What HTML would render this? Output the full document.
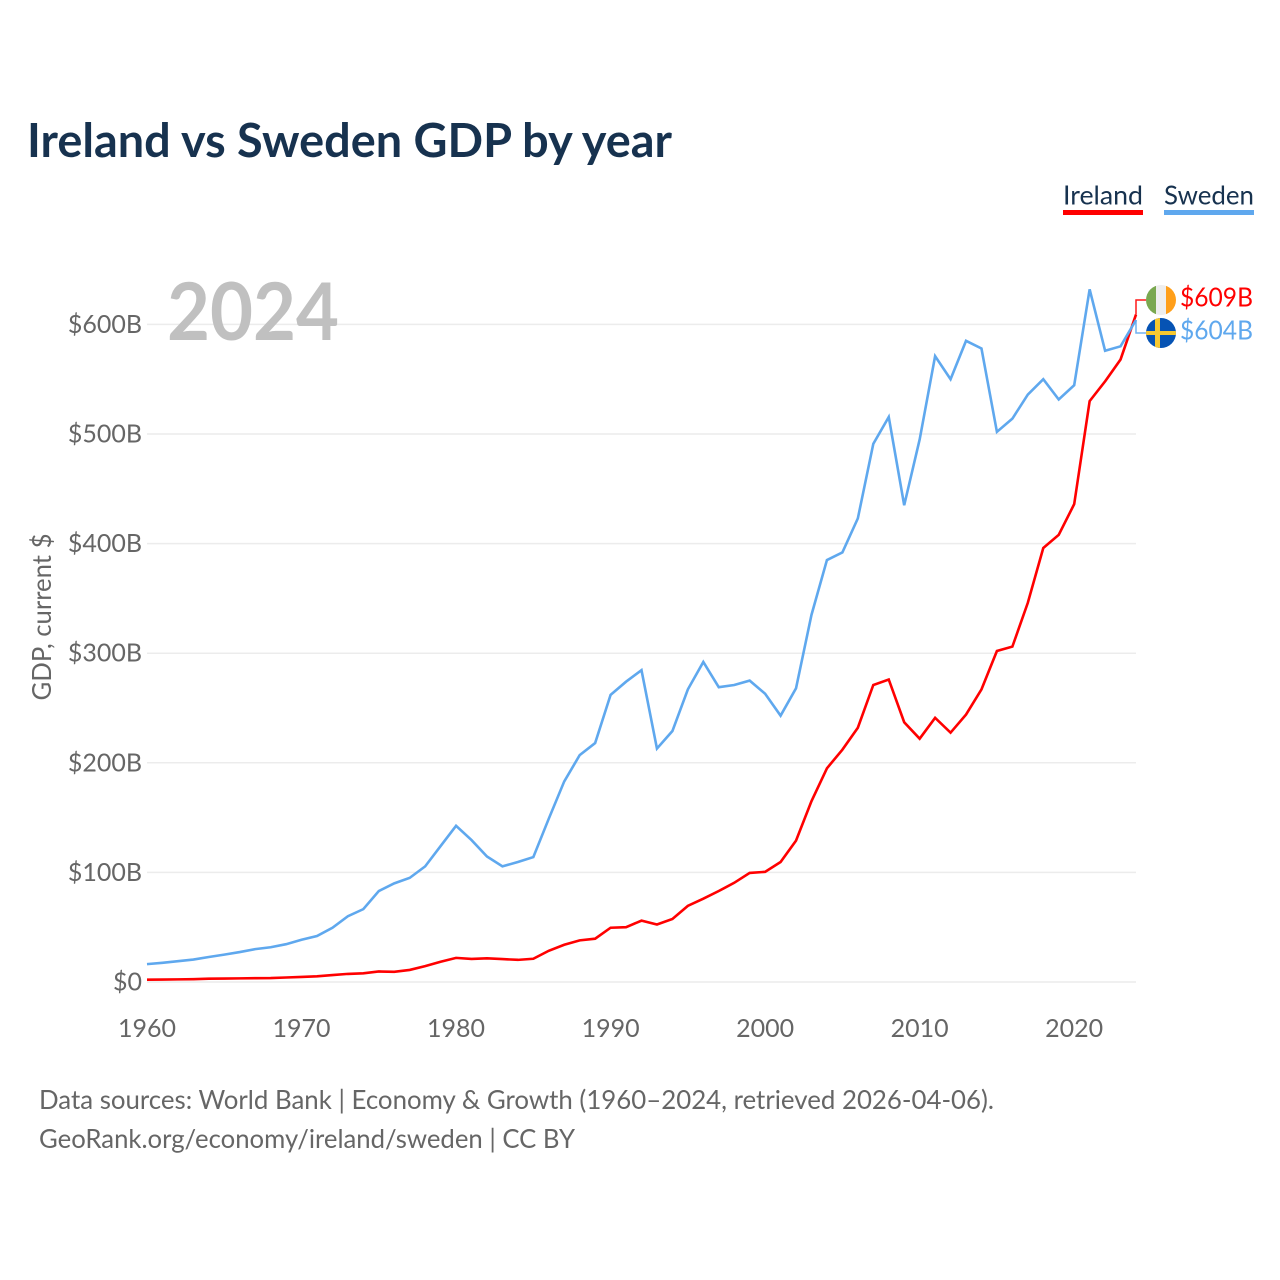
<!DOCTYPE html>
<html lang="en">
<head>
<meta charset="utf-8">
<title>Ireland vs Sweden GDP by year</title>
<style>
html,body{margin:0;padding:0;background:#fff;}
svg{display:block;}
text{font-family:"Lato","Carlito","Liberation Sans",sans-serif;}
</style>
</head>
<body>
<svg id="chart" xmlns="http://www.w3.org/2000/svg" width="1280" height="1280" viewBox="0 0 1280 1280">
  <rect width="1280" height="1280" fill="#fff"/>
  <text x="27" y="157" font-size="47" font-weight="700" fill="#17324f" textLength="645" lengthAdjust="spacingAndGlyphs">Ireland vs Sweden GDP by year</text>
  <g id="grid"></g>
  <g id="yticks"></g>
  <g id="xticks"></g>
  <text x="167" y="340" font-size="80" font-weight="700" fill="#c0c0c0" textLength="172" lengthAdjust="spacingAndGlyphs">2024</text>
  <text transform="translate(51 617) rotate(-90)" text-anchor="middle" font-size="26" fill="#666" textLength="167" lengthAdjust="spacingAndGlyphs">GDP, current $</text>
  <g id="series"></g>
  <g>
    <g>
      <text x="1063" y="204.500" font-size="26" fill="#17324f" textLength="80" lengthAdjust="spacingAndGlyphs">Ireland</text>
      <rect x="1063" y="210" width="80" height="5" fill="#ff0000"/>
    </g>
    <g>
      <text x="1164" y="204.500" font-size="26" fill="#17324f" textLength="90" lengthAdjust="spacingAndGlyphs">Sweden</text>
      <rect x="1164" y="210" width="90" height="5" fill="#5fa8ee"/>
    </g>
  </g>
  <defs>
    <clipPath id="clip-ie"><circle cx="1161" cy="300" r="15"/></clipPath>
    <clipPath id="clip-se"><circle cx="1161" cy="333" r="15"/></clipPath>
  </defs>
  <g clip-path="url(#clip-ie)">
    <rect x="1146" y="285" width="10" height="30" fill="#7aa850"/>
    <rect x="1156" y="285" width="10" height="30" fill="#eeeeee"/>
    <rect x="1166" y="285" width="10" height="30" fill="#ff9f1a"/>
  </g>
  <g clip-path="url(#clip-se)">
    <rect x="1146" y="318" width="30" height="30" fill="#0653b4"/>
    <rect x="1155" y="318" width="5" height="30" fill="#f7c830"/>
    <rect x="1146" y="331" width="30" height="4" fill="#f7c830"/>
  </g>
  <text id="label-ie" x="1180" y="306.500" font-size="26" fill="#ff0000" textLength="73" lengthAdjust="spacingAndGlyphs"></text>
  <text id="label-se" x="1180" y="339.500" font-size="26" fill="#5fa8ee" textLength="73" lengthAdjust="spacingAndGlyphs"></text>
  <text x="39" y="1109" font-size="26" fill="#666" textLength="955" lengthAdjust="spacingAndGlyphs">Data sources: World Bank | Economy &amp; Growth (1960–2024, retrieved 2026-04-06).</text>
  <text x="39" y="1148" font-size="26" fill="#666" textLength="536" lengthAdjust="spacingAndGlyphs">GeoRank.org/economy/ireland/sweden | CC BY</text>
</svg>
<script>
const startYear = 1960;
const irelandValues = [2.1,2.2,2.4,2.6,3.0,3.1,3.3,3.5,3.6,4.1,4.6,5.2,6.3,7.4,7.9,9.6,9.3,11,14.5,18.5,22,21,21.6,20.9,20.2,21.2,28.5,34,38,39.5,49.5,50,56,52.5,57.5,69.5,76,83,90.5,99.5,100.5,109.5,129,165,195,212,232,271,276,237,222,241,227.5,244,267,302,306,346,396,408,436,530,548,568,609];
const swedenValues = [16.3,17.5,19,20.5,22.8,25,27.3,30,31.7,34.5,38.5,42,49.5,60,66.5,83,90,95,105.5,124,142.5,129.5,114.5,105.5,109.5,114,149,183,207,218,262,274,284.5,213,229,267,292,269,271,275,263,243,268,335,385,392,423,491,515.5,435,495,571,550,585,578,502,514,536,550,531.5,544.5,632,576,580,604];
const yTickValues = [0,100,200,300,400,500,600];
const yTickLabels = ['$0','$100B','$200B','$300B','$400B','$500B','$600B'];
const xTickValues = [1960,1970,1980,1990,2000,2010,2020];
const seriesNames = ['ireland','sweden'];

const NS = 'http://www.w3.org/2000/svg';
const plotLeft = 147, plotRight = 1136, zeroY = 982, pxPer100 = 109.6;
const lastYear = startYear + irelandValues.length - 1;
function xScale(year){ return plotLeft + (year - startYear) * (plotRight - plotLeft) / (lastYear - startYear); }
function yScale(v){ return zeroY - v * pxPer100 / 100; }
function make(tag, attrs, parent){
  const el = document.createElementNS(NS, tag);
  for (const k in attrs) el.setAttribute(k, attrs[k]);
  parent.appendChild(el);
  return el;
}
const grid = document.getElementById('grid');
const yticks = document.getElementById('yticks');
const xticks = document.getElementById('xticks');
const series = document.getElementById('series');

yTickValues.forEach(function(v, i){
  const line = make('line', {x1: plotLeft, x2: plotRight, y1: yScale(v), y2: yScale(v), stroke: '#ececec', 'stroke-width': 1.5}, grid);
  
  
  const t = make('text', {x: 142, y: yScale(v) + 8.5, 'text-anchor': 'end', 'font-size': 25, fill: '#666'}, yticks);
  t.textContent = yTickLabels[i];
  
  
});
xTickValues.forEach(function(year){
  const t = make('text', {x: xScale(year), y: 1037, 'text-anchor': 'middle', 'font-size': 25, fill: '#666'}, xticks);
  t.textContent = String(year);
  
  
});
function linePath(values){
  return values.map(function(v, i){
    return (i ? 'L' : 'M') + xScale(startYear + i).toFixed(2) + ' ' + yScale(v).toFixed(2);
  }).join(' ');
}
const seriesValues = [irelandValues, swedenValues];
const seriesColors = ['#ff0000', '#5fa8ee'];
const connectorY = [300, 333];
// Sweden is drawn after Ireland, matching the overlap near the last points
seriesNames.forEach(function(name, i){
  const values = seriesValues[i];
  const p = make('path', {d: linePath(values), fill: 'none', stroke: seriesColors[i], 'stroke-width': 2.6, 'stroke-linejoin': 'miter'}, series);
  
  
  const endY = yScale(values[values.length - 1]);
  const c = make('path', {d: 'M' + plotRight + ' ' + endY + ' V' + connectorY[i] + ' H1146', fill: 'none', stroke: seriesColors[i], 'stroke-width': 1.5, opacity: 0.9}, series);
  
  
});
document.getElementById('label-ie').textContent = '$' + irelandValues[irelandValues.length - 1] + 'B';
document.getElementById('label-se').textContent = '$' + swedenValues[swedenValues.length - 1] + 'B';
</script>
</body>
</html>
